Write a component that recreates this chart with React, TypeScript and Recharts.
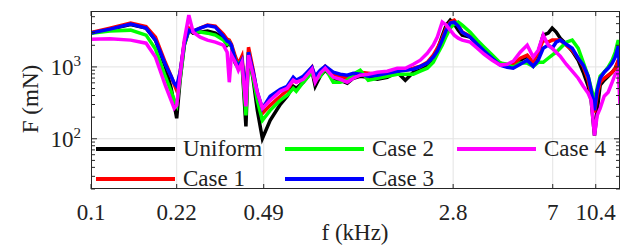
import React from 'react';
import { LineChart, Line, XAxis, YAxis, CartesianGrid, Legend, Label } from 'recharts';

// frequency in kHz
const freq = [
  0.1, 0.119, 0.144, 0.166, 0.181, 0.198, 0.209, 0.215, 0.22, 0.227,
  0.236, 0.246, 0.256, 0.273, 0.292, 0.314, 0.338, 0.35, 0.357, 0.364,
  0.377, 0.388, 0.401, 0.416, 0.426, 0.445, 0.462, 0.484, 0.52, 0.571,
  0.608, 0.643, 0.661, 0.705, 0.764, 0.787, 0.824, 0.863, 0.929, 0.991,
  1.057, 1.117, 1.191, 1.282, 1.393, 1.527, 1.674, 1.803, 1.941, 2.07,
  2.207, 2.333, 2.421, 2.532, 2.627, 2.726, 2.828, 2.934, 3.044, 3.276,
  3.495, 3.727, 4.012, 4.318, 4.604, 4.866, 5.19, 5.536, 5.85, 6.125,
  6.412, 6.714, 6.966, 7.227, 7.499, 7.925, 8.375, 8.85, 9.27, 9.7,
  9.97, 10.28, 10.54, 10.83, 11.24, 11.66, 12.1, 12.44, 12.79, 13.0,
];

// force in mN
const uniform = [
  2950, 3360, 3880, 3470, 2360, 1020, 505, 302, 193, 653,
  2010, 3250, 2950, 3050, 3150, 2950, 2510, 2010, 2140, 1940,
  1130, 959, 1160, 149, 1600, 653, 249, 101, 181, 302,
  390, 538, 505, 612, 871, 538, 742, 900, 696, 653,
  593, 696, 742, 718, 673, 718, 844, 653, 844, 900,
  1020, 1320, 1710, 2680, 3820, 4480, 3940, 3250, 2770, 2600,
  2070, 1710, 1370, 1130, 1060, 1090, 1240, 1410, 1060, 1600,
  2770, 2950, 3470, 3050, 2510, 2070, 1660, 1240, 844, 538,
  343, 111, 249, 556, 653, 742, 844, 959, 1160, 766,
];
const case1 = [
  3000, 3470, 4070, 3640, 2600, 1160, 742, 574, 473, 844,
  2210, 3470, 3150, 3470, 3820, 3700, 2860, 2430, 2360, 2070,
  1410, 1090, 1410, 366, 1880, 900, 403, 226, 292, 390,
  473, 653, 612, 696, 991, 696, 844, 1020, 791, 742,
  696, 791, 844, 817, 791, 844, 929, 900, 959, 1020,
  1160, 1460, 1820, 2510, 3470, 4200, 4480, 3820, 3050, 2680,
  2140, 1710, 1370, 1130, 1060, 1090, 1320, 1460, 1160, 1600,
  2360, 2210, 2360, 2360, 2360, 2010, 1710, 1320, 1020, 653,
  403, 233, 403, 612, 696, 766, 844, 959, 1240, 538,
];
const case2 = [
  2950, 3150, 3250, 2770, 1770, 742, 458, 343, 292, 696,
  2070, 3250, 3050, 3050, 2950, 2770, 2360, 2070, 2210, 1940,
  1240, 1090, 1240, 212, 1600, 696, 343, 181, 249, 343,
  403, 505, 458, 612, 844, 653, 742, 959, 612, 612,
  653, 791, 900, 653, 696, 742, 791, 791, 791, 871,
  959, 1160, 1500, 2010, 2680, 3470, 3940, 4200, 3820, 3050,
  2360, 1880, 1460, 1130, 1090, 991, 1130, 1130, 1020, 1160,
  1160, 1320, 1460, 1600, 1820, 2210, 2360, 1820, 1160, 742,
  505, 343, 505, 742, 844, 991, 1240, 1600, 2360, 1710,
];
const case3 = [
  2950, 3360, 3940, 3470, 2360, 1090, 742, 593, 538, 844,
  2140, 3250, 3150, 3470, 3760, 3580, 2680, 2280, 2210, 2010,
  1240, 1020, 1240, 390, 1600, 844, 444, 265, 390, 489,
  538, 718, 653, 742, 991, 742, 900, 1020, 844, 791,
  766, 817, 791, 742, 766, 817, 871, 900, 929, 1020,
  1130, 1370, 1660, 2360, 3250, 4070, 4200, 3700, 3050, 2600,
  2070, 1660, 1320, 1060, 991, 959, 1090, 1240, 1020, 1240,
  1820, 2010, 1820, 2210, 2360, 2070, 1820, 1320, 1060, 742,
  473, 249, 473, 696, 844, 959, 1130, 1370, 1940, 653,
];
const case4 = [
  2430, 2470, 2360, 2140, 1370, 556, 343, 265, 292, 766,
  2360, 5260, 3050, 2600, 2360, 2210, 2010, 1600, 612, 1460,
  1160, 900, 1160, 283, 1460, 766, 444, 265, 343, 458,
  505, 653, 612, 673, 929, 612, 817, 959, 718, 673,
  612, 696, 766, 791, 844, 871, 959, 959, 1090, 1240,
  1550, 2010, 2600, 4200, 3820, 3250, 2770, 2510, 2360, 2210,
  1820, 1500, 1240, 1060, 1090, 1200, 1600, 2010, 1370, 1710,
  2770, 2010, 1820, 1600, 1410, 1090, 871, 696, 538, 430,
  343, 111, 212, 265, 390, 444, 612, 791, 900, 302,
];

const xTicks = [0.1, 0.22, 0.49, 2.8, 7, 10.4];
const yTicks = [
  20, 30, 40, 50, 60, 70, 80, 90,
  100, 200, 300, 400, 500, 600, 700, 800, 900,
  1000, 2000, 3000, 4000, 5000,
];
const yMajor = [100, 1000];

const series = [
  { key: 'uniform', name: 'Uniform', color: '#000000' },
  { key: 'case1', name: 'Case 1', color: '#ff0000' },
  { key: 'case2', name: 'Case 2', color: '#00ff00' },
  { key: 'case3', name: 'Case 3', color: '#0000ff' },
  { key: 'case4', name: 'Case 4', color: '#ff00ff' },
];

const data = freq.map((f, i) => ({
  f,
  uniform: uniform[i],
  case1: case1[i],
  case2: case2[i],
  case3: case3[i],
  case4: case4[i],
}));

const W = 630;
const H = 245;
const LEFT = 91;
const RIGHT = 620;
const TOP = 11;
const BOTTOM = 189;
const FONT = '"Liberation Serif", serif';
const AXIS_COLOR = '#262626';

const XTick = (props: any) => {
  const { x, payload } = props;
  return (
    <g>
      <line x1={x} x2={x} y1={BOTTOM} y2={BOTTOM - 5} stroke={AXIS_COLOR} />
      <line x1={x} x2={x} y1={TOP} y2={TOP + 5} stroke={AXIS_COLOR} />
      <text x={x} y={BOTTOM + 31} textAnchor="middle" fontFamily={FONT} fontSize={23} fill="#222">
        {String(payload.value)}
      </text>
    </g>
  );
};

const YTick = (props: any) => {
  const { y, payload } = props;
  const major = yMajor.includes(payload.value);
  const len = major ? 6 : 4;
  return (
    <g>
      <line x1={LEFT} x2={LEFT + len} y1={y} y2={y} stroke={AXIS_COLOR} />
      <line x1={RIGHT - len} x2={RIGHT} y1={y} y2={y} stroke={AXIS_COLOR} />
      {major && (
        <text x={81} y={y + 8.5} textAnchor="end" fontFamily={FONT} fontSize={23} fill="#222">
          10
          <tspan dy={-9} fontSize={15}>
            {String(Math.round(Math.log10(payload.value)))}
          </tspan>
        </text>
      )}
    </g>
  );
};

const legendCols = [96, 285, 457];
const legendRows = [149, 179];
const legendSlots = [
  [0, 0], // Uniform
  [0, 1], // Case 1
  [1, 0], // Case 2
  [1, 1], // Case 3
  [2, 0], // Case 4
];

const LegendBox = () => (
  <div style={{ position: 'relative', width: W, height: H }}>
    {series.map((s, i) => {
      const [c, r] = legendSlots[i];
      return (
        <div
          key={s.key}
          style={{
            position: 'absolute',
            left: legendCols[c],
            top: legendRows[r] - 15,
            height: 30,
            display: 'flex',
            alignItems: 'center',
            whiteSpace: 'nowrap',
          }}
        >
          <div style={{ width: 79, height: 4, background: s.color }} />
          <span style={{ marginLeft: 8, fontFamily: FONT, fontSize: 23, color: '#222', lineHeight: '30px' }}>
            {s.name}
          </span>
        </div>
      );
    })}
  </div>
);

export default function App() {
  return (
    <div style={{ position: 'absolute', left: 0, top: 0, width: W, height: H, background: '#fff' }}>
      <LineChart width={W} height={H} data={data} margin={{ top: TOP, right: W - RIGHT, bottom: 0, left: 0 }}>
        <CartesianGrid
          stroke="#e3e3e3"
          strokeWidth={1}
          horizontalValues={yMajor}
          verticalValues={xTicks.slice(1)}
        />
        <XAxis
          dataKey="f"
          type="number"
          scale="log"
          domain={[0.1, 13]}
          ticks={xTicks}
          allowDataOverflow
          height={H - BOTTOM}
          axisLine={false}
          tickLine={false}
          tick={<XTick />}
          interval={0}
        >
          <Label
            content={() => (
              <text x={355} y={240} textAnchor="middle" fontFamily={FONT} fontSize={23} fill="#222">
                f (kHz)
              </text>
            )}
          />
        </XAxis>
        <YAxis
          type="number"
          scale="log"
          domain={[20, 6000]}
          ticks={yTicks}
          allowDataOverflow
          width={LEFT}
          axisLine={false}
          tickLine={false}
          tick={<YTick />}
          interval={0}
        >
          <Label
            content={() => (
              <text
                x={30}
                y={99}
                transform="rotate(-90 30 99)"
                textAnchor="middle"
                dominantBaseline="central"
                fontFamily={FONT}
                fontSize={23}
                fill="#222"
              >
                F (mN)
              </text>
            )}
          />
        </YAxis>
        {series.map((s) => (
          <Line
            key={s.key}
            dataKey={s.key}
            name={s.name}
            type="linear"
            stroke={s.color}
            strokeWidth={3.5}
            dot={false}
            isAnimationActive={false}
          />
        ))}
        <Legend
          layout="vertical"
          align="center"
          verticalAlign="middle"
          content={<LegendBox />}
          wrapperStyle={{ position: 'absolute', left: 0, top: 0, width: W, height: H }}
        />
      </LineChart>
      <div
        style={{
          position: 'absolute',
          left: LEFT,
          top: TOP,
          width: RIGHT - LEFT,
          height: BOTTOM - TOP,
          border: `1px solid ${AXIS_COLOR}`,
          boxSizing: 'border-box',
          pointerEvents: 'none',
        }}
      />
    </div>
  );
}
